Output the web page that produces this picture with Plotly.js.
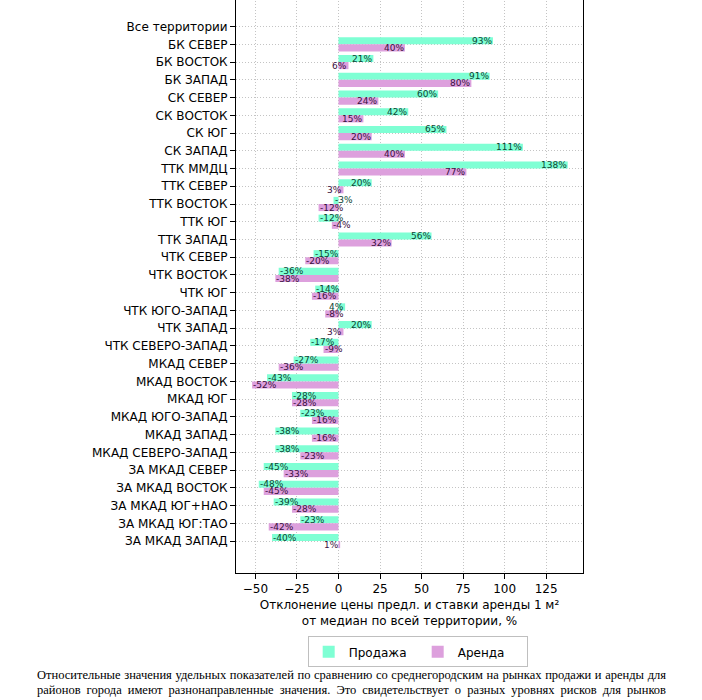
<!DOCTYPE html>
<html>
<head>
<meta charset="utf-8">
<script src="https://cdn.plot.ly/plotly-3.0.1.min.js"></script>
<style>
  html, body { margin: 0; padding: 0; background: #ffffff; width: 702px; height: 700px; overflow: hidden; }
  #chart { position: absolute; left: 0; top: -20px; width: 702px; height: 723px; }
  #para { position: absolute; left: 37px; top: 668px; width: 629px; font-family: "Liberation Serif", "DejaVu Serif", serif; font-size: 12.5px; line-height: 15px; color: #000; }
  #para div { text-align: justify; text-align-last: justify; white-space: nowrap; }
</style>
</head>
<body>
<div id="chart"></div>
<div id="para">
  <div>Относительные значения удельных показателей по сравнению со среднегородским на рынках продажи и аренды для</div>
  <div>районов города имеют разнонаправленные значения. Это свидетельствует о разных уровнях рисков для рынков</div>
</div>
<script>
const categories = [
  "Все территории", "БК СЕВЕР", "БК ВОСТОК", "БК ЗАПАД", "СК СЕВЕР", "СК ВОСТОК", "СК ЮГ", "СК ЗАПАД",
  "ТТК ММДЦ", "ТТК СЕВЕР", "ТТК ВОСТОК", "ТТК ЮГ", "ТТК ЗАПАД", "ЧТК СЕВЕР", "ЧТК ВОСТОК", "ЧТК ЮГ",
  "ЧТК ЮГО-ЗАПАД", "ЧТК ЗАПАД", "ЧТК СЕВЕРО-ЗАПАД", "МКАД СЕВЕР", "МКАД ВОСТОК", "МКАД ЮГ",
  "МКАД ЮГО-ЗАПАД", "МКАД ЗАПАД", "МКАД СЕВЕРО-ЗАПАД", "ЗА МКАД СЕВЕР", "ЗА МКАД ВОСТОК",
  "ЗА МКАД ЮГ+НАО", "ЗА МКАД ЮГ:ТАО", "ЗА МКАД ЗАПАД"
];
const saleValues = [0, 93, 21, 91, 60, 42, 65, 111, 138, 20, -3, -12, 56, -15, -36, -14, 4, 20, -17, -27, -43, -28, -23, -38, -38, -45, -48, -39, -23, -40];
const rentValues = [0, 40, 6, 80, 24, 15, 20, 40, 77, 3, -12, -4, 32, -20, -38, -16, -8, 3, -9, -36, -52, -28, -16, -16, -23, -33, -45, -28, -42, 1];
const seriesNames = ["Продажа", "Аренда"];
const xTickValues = [-50, -25, 0, 25, 50, 75, 100, 125];
const xTitle = "Отклонение цены предл. и ставки аренды 1 м²<br>от медиан по всей территории, %";

const saleColor = "#7FFFD4";
const rentColor = "#DDA0DD";
const saleTextColor = "#0b4532";
const rentTextColor = "#3a0f3d";
const rowPx = 17.74;
const shift = rowPx * 0.2;

const traces = [
  { type: "bar", orientation: "h", name: seriesNames[0], y: categories, x: saleValues,
    marker: { color: saleColor }, hoverinfo: "skip" },
  { type: "bar", orientation: "h", name: seriesNames[1], y: categories, x: rentValues,
    marker: { color: rentColor }, hoverinfo: "skip" }
];

const annotations = [];
function addLabels(vals, dy, color) {
  vals.forEach((v, i) => {
    if (v === 0) return;
    annotations.push({
      x: v, y: categories[i], xref: "x", yref: "y",
      text: v + "%", showarrow: false,
      xanchor: v >= 0 ? "right" : "left", yanchor: "middle",
      yshift: dy, borderpad: 0,
      font: { family: "DejaVu Sans", size: 9, color: color }
    });
  });
}
addLabels(saleValues, shift, saleTextColor);
addLabels(rentValues, -shift, rentTextColor);

const layout = {
  width: 702, height: 723,
  margin: { l: 236, r: 119, t: 12, b: 130 },
  paper_bgcolor: "#ffffff", plot_bgcolor: "#ffffff",
  font: { family: "DejaVu Sans", size: 12, color: "#000" },
  barmode: "group", bargap: 0.2, bargroupgap: 0,
  showlegend: true,
  legend: {
    orientation: "h", x: 0.2066, y: -0.109, xanchor: "left", yanchor: "top",
    bordercolor: "#bfbfbf", borderwidth: 1, bgcolor: "#ffffff",
    font: { family: "DejaVu Sans", size: 12, color: "#000" },
    entrywidth: 64
  },
  xaxis: {
    range: [-61.7, 147.2], tickvals: xTickValues, ticktext: xTickValues.map(v => v < 0 ? "\u2212" + Math.abs(v) : String(v)),
    showgrid: true, gridcolor: "#c4c4c4", griddash: "1px,2px", gridwidth: 1,
    zeroline: false, showline: true, mirror: true, linecolor: "#000", linewidth: 1,
    ticks: "outside", ticklen: 5, tickcolor: "#000", tickfont: { size: 12 },
    automargin: false,
    title: { text: xTitle, font: { size: 12 }, standoff: 5 }
  },
  yaxis: {
    type: "category", range: [30.8, -1.95],
    showgrid: true, gridcolor: "#c4c4c4", griddash: "1px,2px", gridwidth: 1,
    zeroline: false, showline: true, mirror: true, linecolor: "#000", linewidth: 1,
    ticks: "outside", ticklen: 5, tickcolor: "#000", tickfont: { size: 12 },
    automargin: false
  },
  annotations: annotations
};

Plotly.newPlot("chart", traces, layout, { staticPlot: true, displayModeBar: false });
</script>
</body>
</html>
